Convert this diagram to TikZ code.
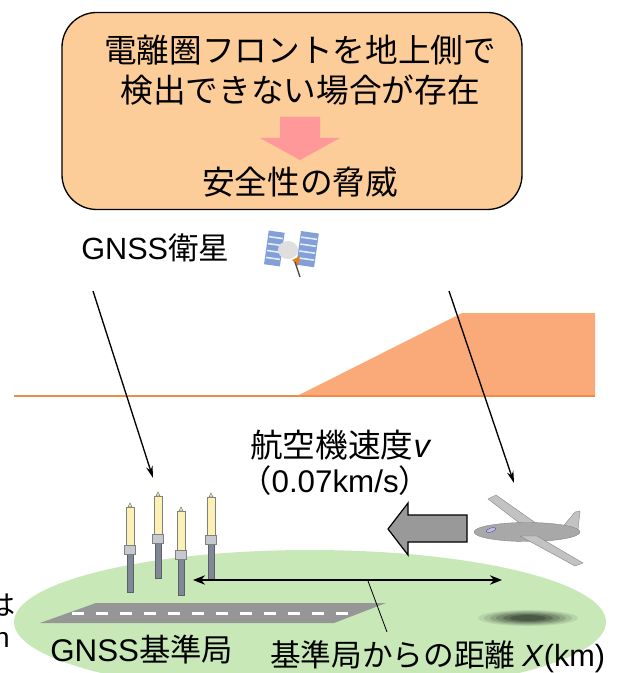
\documentclass[tikz,border=0pt]{standalone}
\usepackage{fontspec}
\setmainfont{Noto Sans CJK JP}
\newfontfamily\lat{Liberation Sans}
\usetikzlibrary{arrows.meta,shapes.geometric}
\definecolor{boxfill}{RGB}{252,204,153}
\definecolor{pinkarrow}{RGB}{255,153,153}
\definecolor{ionofill}{RGB}{250,170,120}
\definecolor{ionoline}{RGB}{240,140,70}
\definecolor{ground}{RGB}{200,232,184}
\definecolor{runway}{RGB}{150,150,150}
\definecolor{poletop}{RGB}{252,240,180}
\definecolor{polegray}{RGB}{128,136,150}
\definecolor{planegray}{RGB}{168,168,168}
\definecolor{panelblue}{RGB}{130,160,215}
\tikzset{
  lbl/.style={inner sep=0pt, anchor=west},
  ray/.style={-{Stealth[length=9pt,width=5pt]}, line width=1pt},
  pole/.style={fill=polegray, draw=polegray!70!black, line width=0.3pt},
  polehead/.style={fill=poletop, draw=gray, line width=0.4pt},
}
\begin{document}
\begin{tikzpicture}[x=0.75pt,y=-0.75pt]
\useasboundingbox (0,0) rectangle (643,673);
\fill[white] (0,0) rectangle (643,673);

% ground disc and runway
\fill[ground] (310,622) ellipse (296 and 72);
\fill[runway] (40,623) -- (96,603) -- (386,603) -- (334,623) -- cycle;
\foreach \x in {72,96,...,352}
  \fill[white] (\x,612) rectangle ++(12,2.5);

% shadow of the aircraft
\foreach \s/\o in {1/0.08,0.88/0.10,0.76/0.12,0.64/0.15,0.5/0.2,0.36/0.22}
  \fill[black,opacity=\o] (528,618) ellipse ({50*\s} and {8*\s});

% ionosphere front
\fill[ionofill] (297,396) -- (462,313) -- (595,313) -- (595,396) -- cycle;
\draw[ionoline, line width=1.6pt] (14,396) -- (595,396);

% alert box
\node[draw=black, line width=1pt, fill=boxfill, rounded corners=26pt,
      minimum width=460pt*0.75, minimum height=197pt*0.75] (alert) at (292,111) {};
\node[font=\fontsize{24.5pt}{30pt}\selectfont, align=center] (cause) at (300,70)
  {電離圏フロントを地上側で\\検出できない場合が存在};
\node[font=\fontsize{24.5pt}{30pt}\selectfont] (threat) at (300,182) {安全性の脅威};
\fill[pinkarrow] (280,117) -- (320,117) -- (320,138) -- (340,138) -- (300,160)
  -- (260,138) -- (280,138) -- cycle;

% satellite
\node[lbl, font=\fontsize{23pt}{26pt}\selectfont] (sat) at (81,248) {{\lat GNSS}衛星};
\begin{scope}[shift={(292,252)}]
  \fill[panelblue, rotate=-8] (-26,-18) rectangle (-10,16);
  \fill[panelblue, rotate=-8] (6,-22) rectangle (24,12);
  \foreach \y in {-12,-5,2,9}{
    \draw[white!80!panelblue, line width=1.2pt, rotate=-8] (-25,\y) -- (-11,\y);
    \draw[white!80!panelblue, line width=1.2pt, rotate=-8] (7,\y-4) -- (23,\y-4);
  }
  \fill[gray!25] (-4,-2) ellipse (10 and 9);
  \fill[orange!60!brown] (0,8) -- (8,4) -- (6,14) -- cycle;
  \draw[gray!60!black, line width=1pt] (3,10) -- (8,25);
\end{scope}

% ray paths
\coordinate (rayA) at (93,291);
\coordinate (rayB) at (449,291);
\coordinate (stn) at (153,478);
\coordinate (acft) at (514,483);
\draw[ray] (rayA) -- (stn);
\draw[ray] (rayB) -- (acft);

% aircraft speed
\node[lbl, font=\fontsize{24.5pt}{28pt}\selectfont] (speed) at (250,445) {航空機速度\textit{\lat v}};
\node[lbl, font=\fontsize{23.5pt}{28pt}\selectfont] (speedval) at (240,481) {（{\lat 0.07km/s}）};
\draw[fill=gray!80, line width=0.9pt] (467,515) -- (408,515) -- (408,503) -- (388,529)
  -- (408,555) -- (408,542) -- (467,542) -- cycle;

% aircraft
\begin{scope}
  \fill[planegray!70, draw=planegray!80!black, line width=0.3pt]
    (488,499) -- (496,495) -- (540,526) -- (526,528) -- cycle;
  \fill[planegray!70, draw=planegray!80!black, line width=0.3pt]
    (575,512) -- (580,511) -- (578,530) -- (560,530) -- cycle;
  \fill[planegray, draw=planegray!80!black, line width=0.3pt] (527,532) ellipse (53 and 9.5);
  \fill[planegray!70, draw=planegray!80!black, line width=0.3pt]
    (520,536) -- (537,536) -- (583,563) -- (575,566) -- cycle;
  \fill[blue!25!gray!40, draw=blue!40!gray, line width=0.3pt, rotate around={20:(491,530)}]
    (491,530) ellipse (5 and 2);
\end{scope}

% reference station antennas
\foreach \x/\t/\j/\b [count=\i] in {130/503/547/592, 158/492/536/578, 181/507/552/595, 211/493/537/580}{
  \fill[pole] (\x-3,\j+6) rectangle (\x+3,\b);
  \fill[pole, fill=polegray!45, draw=gray] (\x-5.5,\j-2) rectangle (\x+5.5,\j+7);
  \fill[polehead] (\x-4,\t+4) rectangle (\x+4,\j-2);
  \fill[polehead] (\x,\t) -- (\x+2,\t+4) -- (\x-2,\t+4) -- cycle;
  \coordinate (ant\i) at (\x,\b);
}

% baseline distance
\coordinate (xa) at (193,580);
\coordinate (xb) at (502,580);
\draw[{Stealth[length=9pt,width=7pt]}-{Stealth[length=9pt,width=7pt]}, line width=2.2pt] (xa) -- (xb);
\node[lbl, font=\fontsize{23.5pt}{26pt}\selectfont] (stnlbl) at (50,650) {{\lat GNSS}基準局};
\node[lbl, font=\fontsize{23pt}{26pt}\selectfont] (distlbl) at (270,657) {基準局からの距離 {\lat\textit{X}(km)}};
\coordinate (lead) at (368,581);
\draw[line width=0.6pt] (lead) -- (387,632);

% text running in from the left edge
\node[anchor=east, inner sep=0pt, font=\fontsize{21pt}{24pt}\selectfont] (cutA) at (16,605) {は};
\node[anchor=east, inner sep=0pt, font=\fontsize{21pt}{24pt}\selectfont] (cutB) at (10,640) {{\lat n}};
\end{tikzpicture}
\end{document}
